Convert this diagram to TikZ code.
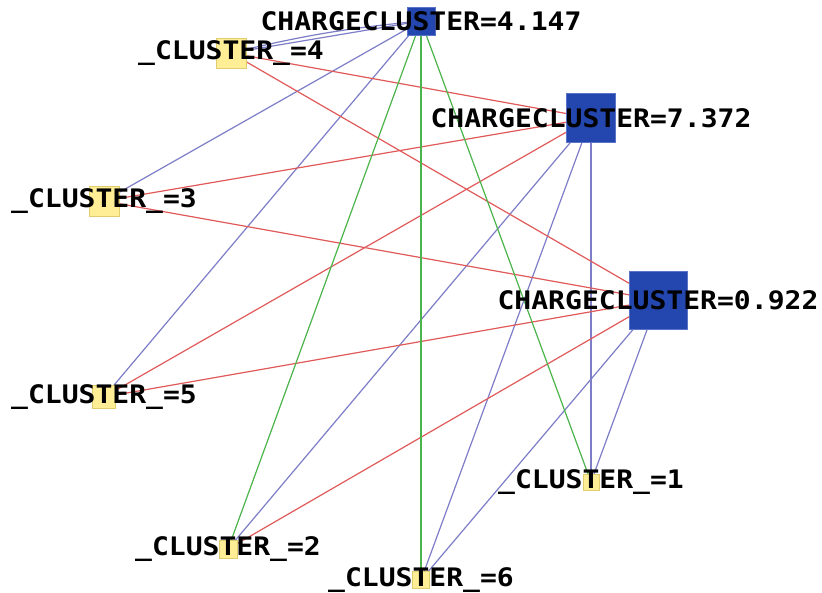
\documentclass[tikz,border=0pt]{standalone}
\usepackage{fontspec}
\newfontfamily\lblfont{DejaVu Sans Mono}[FakeStretch=1.1]
\definecolor{nodeblue}{RGB}{35,70,175}
\definecolor{nodeblueb}{RGB}{90,115,200}
\definecolor{nodeyel}{RGB}{255,238,150}
\definecolor{nodeyelb}{RGB}{225,205,110}
\definecolor{edgeblue}{RGB}{125,125,200}
\definecolor{edgered}{RGB}{225,90,90}
\definecolor{edgegreen}{RGB}{75,180,75}
\pgfdeclarelayer{bg}
\pgfdeclarelayer{edges}
\pgfsetlayers{bg,edges,main}
\begin{document}
\begin{tikzpicture}[x=1pt,y=-1pt,
  sq/.style={rectangle, line width=0.6pt, inner sep=0pt, outer sep=0pt},
  bsq/.style={sq, fill=nodeblue, draw=nodeblueb},
  ysq/.style={sq, fill=nodeyel, draw=nodeyelb},
  lbl/.style={font=\lblfont\bfseries\fontsize{25.5}{27}\selectfont, inner sep=0pt, text=black},
  eb/.style={draw=edgeblue, line width=1.2pt},
  er/.style={draw=edgered, line width=1.2pt},
  eg/.style={draw=edgegreen, line width=1.2pt}]
\begin{pgfonlayer}{bg}
\useasboundingbox[fill=white] (0,0) rectangle (822,593);
\end{pgfonlayer}
% squares
\node[bsq, minimum size=28pt] (c4) at (421,21) {};
\node[bsq, minimum size=49pt] (c7) at (591,118) {};
\node[bsq, minimum size=58pt] (c9) at (658,300) {};
\node[ysq, minimum size=30pt] (n4) at (231,53) {};
\node[ysq, minimum size=30pt] (n3) at (104,201) {};
\node[ysq, minimum size=23pt] (n5) at (104,397) {};
\node[ysq, minimum size=16pt] (n1) at (591,482) {};
\node[ysq, minimum size=18pt] (n2) at (228,549) {};
\node[ysq, minimum size=17pt] (n6) at (421,580) {};
% labels
\node[lbl] (c4l) at (c4) {CHARGECLUSTER=4.147};
\node[lbl] (c7l) at (c7) {CHARGECLUSTER=7.372};
\node[lbl] (c9l) at (c9) {CHARGECLUSTER=0.922};
\node[lbl] (n4l) at (n4) {\_CLUSTER\_=4};
\node[lbl] (n3l) at (n3) {\_CLUSTER\_=3};
\node[lbl] (n5l) at (n5) {\_CLUSTER\_=5};
\node[lbl] (n1l) at (n1) {\_CLUSTER\_=1};
\node[lbl] (n2l) at (n2) {\_CLUSTER\_=2};
\node[lbl] (n6l) at (n6) {\_CLUSTER\_=6};
% edges
\begin{pgfonlayer}{edges}
\draw[eb] (c4.center) -- (n4.center);
\draw[eb] (c4.center) to[bend right=4] (n4.center);
\draw[eb] (c4.center) -- (n3.center);
\draw[eb] (c4.center) -- (n5.center);
\draw[eb] (c7.center) -- (n2.center);
\draw[eb] (c7.center) -- (n6.center);
\draw[eb] (c7.center) -- (n1.center);
\draw[eb] (c9.center) -- (n6.center);
\draw[eb] (c9.center) -- (n1.center);
\draw[er] (c7.center) -- (n4.center);
\draw[er] (c9.center) -- (n4.center);
\draw[er] (c7.center) -- (n3.center);
\draw[er] (c9.center) -- (n3.center);
\draw[er] (c7.center) -- (n5.center);
\draw[er] (c9.center) -- (n5.center);
\draw[er] (c9.center) -- (n2.center);
\draw[eg] (c4.center) -- (n2.center);
\draw[eg] (c4.center) -- (n6.center);
\draw[eg] (c4.center) -- (n1.center);
\end{pgfonlayer}
\end{tikzpicture}
\end{document}
